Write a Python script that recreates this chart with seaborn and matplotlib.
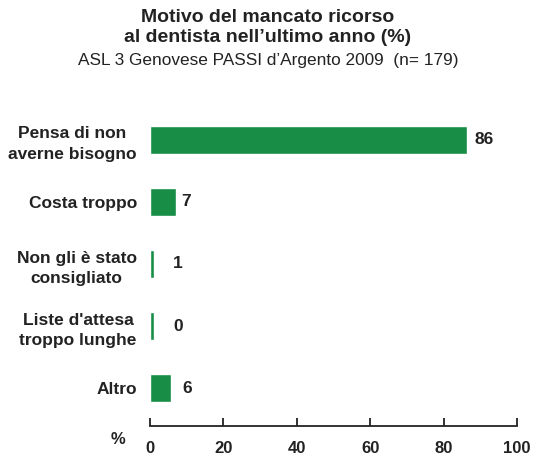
import matplotlib
matplotlib.use("Agg")
import matplotlib.pyplot as plt
import seaborn as sns
import pandas as pd

categories = ["Pensa di non\naverne bisogno", "Costa troppo", "Non gli è stato\nconsigliato",
              "Liste d'attesa\ntroppo lunghe", "Altro"]
values = [86.4, 7.0, 1.1, 1.1, 5.8]
value_labels = ["86", "7", "1", "0", "6"]
xticks = [0, 20, 40, 60, 80, 100]

sns.set_style("white")
plt.rcParams['font.family'] = ['Liberation Sans', 'DejaVu Sans']

df = pd.DataFrame({"cat": categories, "val": values})

fig = plt.figure(figsize=(5.36, 4.57), dpi=100)
ax = fig.add_axes([150/536, 1-426/457, (517-150)/536, (426-102)/457])
sns.barplot(data=df, y="cat", x="val", orient="h", color="#178d46", width=0.44,
            saturation=1, ax=ax)
ax.set_xlim(0, 100)
ax.set_ylim(4.61, -0.61)
ax.set_xlabel("")
ax.set_ylabel("")
ax.set_xticks(xticks)
ax.set_xticklabels([str(t) for t in xticks], fontsize=12, fontweight="bold", color="#222222")
ax.tick_params(axis="x", bottom=True, direction="in", length=6, width=1.3, color="#222222", pad=11)
ax.tick_params(axis="y", left=False, length=0, pad=9.5)
for lbl in ax.get_yticklabels():
    lbl.set_fontweight("bold")
    lbl.set_fontsize(12.5)
    lbl.set_color("#222222")
    lbl.set_horizontalalignment("right")
    lbl.set_multialignment("center")
    lbl.set_linespacing(1.45)
for s in ["top", "right", "left"]:
    ax.spines[s].set_visible(False)
ax.spines["bottom"].set_linewidth(1.3)
ax.spines["bottom"].set_color("#222222")

label_offsets = [7, 6, 19, 19, 11]
for i, (v, t, off) in enumerate(zip(values, value_labels, label_offsets)):
    ax.annotate(t, xy=(v, i), xytext=(off, 0), textcoords="offset pixels",
                va="center", ha="left", fontsize=12.5, fontweight="bold", color="#222222")

fig.text(118/536, 1-440/457, "%", fontsize=12, fontweight="bold", color="#222222",
         ha="center", va="center")

fig.text(0.5, 1-17/457, "Motivo del mancato ricorso", fontsize=14, fontweight="bold",
         ha="center", va="center", color="#222222")
fig.text(0.5, 1-38/457, "al dentista nell\u2019ultimo anno (%)", fontsize=14, fontweight="bold",
         ha="center", va="center", color="#222222")
fig.text(0.5, 1-60/457, "ASL 3 Genovese PASSI d\u2019Argento 2009  (n= 179)", fontsize=12.4,
         ha="center", va="center", color="#222222")

fig.savefig("out.png", dpi=100)
